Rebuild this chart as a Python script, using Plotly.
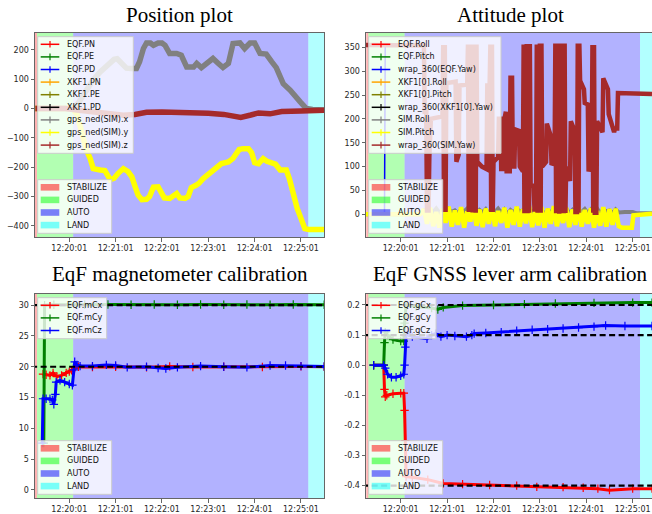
from datetime import datetime, timedelta
import plotly.graph_objects as go

W, H = 652, 514
T0 = datetime(2024, 1, 1, 12, 20, 1)   # 12:20:01, origin of the time offsets below (seconds)

# ---------------- time axis ----------------
tick_labels = ["12:20:01", "12:21:01", "12:22:01", "12:23:01", "12:24:01", "12:25:01"]

# ---------------- flight modes ----------------
mode_names = ["STABILIZE", "GUIDED", "AUTO", "LAND"]
mode_start = [-44.6, -41.8, 5.0, 309.5]
mode_rgb = [(255, 0, 0), (0, 255, 0), (0, 0, 255), (0, 255, 255)]

# ---------------- position (m) ----------------
sim_x_t = [-44, 5, 12, 20, 30, 40, 50, 58, 62, 68, 74, 80, 87, 91, 96, 100, 105, 109, 115, 120,
           124, 130, 139, 145, 152, 161, 165, 171, 178, 186, 193, 199, 206, 212, 221, 227, 234, 240, 247, 255,
           262, 268, 277, 286, 299, 307, 315, 330]
sim_x_v = [0, 0, 20, 55, 95, 125, 150, 168, 170, 152, 138, 137, 137, 160, 205, 224, 224, 216, 224, 224,
           216, 188, 188, 182, 142, 142, 154, 140, 154, 171, 154, 140, 154, 222, 224, 205, 224, 224, 188, 186,
           160, 140, 85, 63, 23, 0, -3, -5]

sim_y_t = [-44, 4, 10, 16, 22, 27, 31, 40, 46, 53, 58, 63, 70, 76, 81, 85, 89, 94, 100, 104,
           109, 115, 119, 123, 130, 135, 139, 143, 150, 154, 158, 164, 168, 173, 182, 189, 197, 206, 212, 216,
           220, 225, 232, 236, 240, 245, 251, 256, 262, 267, 273, 281, 285, 290, 295, 300, 305, 310, 331]
sim_y_v = [0, 0, -20, -80, -140, -170, -205, -210, -212, -243, -238, -222, -205, -215, -233, -265, -295, -311, -310, -300,
           -268, -267, -285, -305, -307, -300, -290, -305, -307, -300, -270, -262, -255, -240, -222, -205, -188, -182, -170, -155,
           -140, -137, -137, -150, -185, -188, -171, -180, -188, -190, -210, -210, -240, -295, -340, -375, -410, -413, -413]

sim_z_t = [-44, -5, 10, 30, 50, 70, 85, 100, 120, 150, 180, 200, 215, 222, 235, 245, 260, 275, 300, 330]
sim_z_v = [0, 0, -5, -12, -18, -23, -20, -13, -12, -13, -16, -20, -28, -30, -22, -15, -18, -10, -8, -6]

# ---------------- attitude (deg) ----------------
sim_yaw_t = [-45, 30, 31, 33, 34, 36, 37, 39, 54, 55, 56, 57, 58, 59, 71, 72, 75, 76, 86,
             87, 88, 89, 90, 91, 92, 93, 94, 95, 96, 97, 98, 99, 105, 111, 112, 115,
             116, 117, 118, 119, 120, 126, 127, 129, 130, 132, 133, 136, 137, 141, 142, 144, 145, 147, 148, 153, 154, 158,
             159, 160, 161, 162, 163, 164, 165, 166, 167, 168, 172, 173, 175,
             176, 177, 178, 179, 180, 181, 182, 183, 188, 189, 194, 195, 199,
             200, 201, 202, 203, 204, 205, 206, 207, 208, 209, 210, 211, 212, 213, 214, 219, 220, 225, 226, 228,
             229, 230, 231, 232, 237, 238, 242, 243, 247, 248, 249, 250, 251, 253, 254, 261, 262, 268, 269, 276,
             277, 280, 281, 325]
sim_yaw_v = [355, 354, 215, 215, 8, 8, 120, 200, 205, 355, 5, 355, 5, 275, 278, 110, 125, 270, 272,
             356, 5, 356, 5, 200, 356, 4, 356, 4, 356, 3, 356, 110, 100, 95, 270, 270,
             356, 5, 356, 5, 110, 120, 200, 200, 95, 95, 190, 215, 90, 90, 286, 286, 100, 100, 178, 175, 100, 90,
             356, 2, 356, 2, 357, 2, 357, 3, 357, 60, 60, 10, 10,
             356, 3, 356, 3, 358, 3, 358, 100, 110, 190, 165, 107, 105,
             358, 2, 358, 2, 358, 1, 357, 2, 358, 3, 357, 2, 358, 3, 100, 70, 195, 175, 5, 5,
             358, 3, 358, 280, 262, 233, 230, 90, 110, 355, 3, 355, 3, 3, 195, 172, 285, 262, 210, 172,
             180, 180, 254, 252]

sim_roll_t = [-45, 25] + list(range(30, 283, 4)) + [290, 300, 305, 325]
sim_roll_v = [0, 0,
              8, 2, 10, 4, 12, 3, 9, 1, 11, 5, 8, 2, 10, 6, 12, 3, 7, 1, 9, 4,
              11, 2, 8, 5, 12, 3, 10, 1, 9, 4, 11, 6, 8, 2, 10, 3, 12, 5, 9, 1,
              8, 4, 11, 2, 10, 6, 12, 3, 9, 1, 8, 5, 11, 2, 10, 4, 12, 3, 9, 6,
              8, 2, 10, 4,
              5, 5, 2, 2]

sim_pitch_t = [-45, 25] + list(range(30, 283, 4)) + [286, 292, 299, 301, 310, 325]
sim_pitch_v = [0, 0,
               10, -20, 14, -25, 5, -28, 12, -18, 16, -26, 8, -22, 15, -28, 6, -15, 18, -24, 10, -27,
               12, -20, 17, -25, 7, -18, 14, -28, 9, -22, 16, -26, 11, -19, 18, -27, 6, -23, 15, -28,
               12, -20, 17, -25, 8, -18, 14, -27, 10, -22, 16, -26, 9, -20, 13, -28, 7, -24, 15, -26,
               11, -22, 12, -25,
               -28, -29, -28, -2, 0, 1]

eqf_yaw_t = [-21, -20, -16]
eqf_yaw_v = [0, 355, 355]

# ---------------- magnetometer calibration ----------------
mcx_t = [-34, -30, -25, -21, -16, -10, -4, 0, 3, 7, 12, 30, 60, 100, 130, 160, 200, 250, 300, 330]
mcx_v = [18.8, 18.7, 18.6, 19.0, 18.4, 18.6, 19.0, 19.2, 19.4, 19.8, 20.0, 19.95, 20.0, 19.9, 20.05, 19.95, 20.0, 19.95, 20.05, 20.0]
mcy_t = [-33, -32, -20, 0, 20, 50, 80, 110, 140, 170, 200, 230, 260, 290, 330]
mcy_v = [7.6, 30.0, 30.05, 30.0, 30.05, 30.1, 30.05, 30.1, 30.05, 30.1, 30.05, 30.1, 30.05, 30.1, 30.05]
mcz_t = [-35, -34, -30, -25, -22, -20, -18, -17, -12, -6, 0, 4, 6, 7, 10, 14, 30, 48, 60, 75,
         100, 115, 125, 140, 170, 200, 230, 260, 280, 300, 330]
mcz_v = [7.6, 14.8, 14.8, 14.8, 14.6, 13.9, 15.5, 17.5, 17.8, 17.5, 17.2, 17.0, 19.5, 20.8, 20.3, 20.1, 20.1, 20.3, 20.2, 19.9,
         20.0, 19.8, 19.7, 19.9, 20.1, 20.0, 19.9, 20.2, 20.2, 20.1, 20.05]
mag_truth = [20.0, 30.0, 20.0]

# ---------------- GNSS lever arm calibration (m) ----------------
gcx_t = [-35, -22, -21, -20, -18, -10, 0, 4, 5, 6, 7, 15, 35, 55, 80, 115, 150, 176, 210, 236, 255, 270, 300, 325]
gcx_v = [0.0, 0.0, -0.08, -0.105, -0.1, -0.095, -0.093, -0.093, -0.15, -0.25, -0.37, -0.372, -0.38, -0.393, -0.395,
         -0.398, -0.40, -0.404, -0.405, -0.407, -0.41, -0.415, -0.41, -0.41]
gcy_t = [-35, -22, -21, -20, -17, -10, 0, 4, 5, 7, 20, 40, 48, 55, 80, 120, 160, 200, 250, 300, 325]
gcy_v = [0.0, 0.0, 0.075, 0.11, 0.1, 0.085, 0.08, 0.08, 0.14, 0.2, 0.195, 0.19, 0.185, 0.192, 0.198, 0.2, 0.203,
         0.205, 0.207, 0.208, 0.208]
gcz_t = [-35, -22, -20, -17, -12, -6, 0, 4, 5, 6, 7, 9, 15, 34, 40, 45, 52, 60, 70, 85,
         92, 95, 110, 130, 150, 170, 190, 210, 230, 250, 265, 290, 325]
gcz_v = [0.0, 0.0, -0.01, -0.03, -0.04, -0.04, -0.035, -0.03, 0.0, 0.06, 0.1, 0.11, 0.095, 0.088, 0.1, 0.105, 0.095,
         0.1, 0.097, 0.095, 0.1, 0.105, 0.107, 0.11, 0.115, 0.118, 0.12, 0.122, 0.125, 0.128, 0.132, 0.13, 0.13]
gnss_truth = [-0.4, 0.2, 0.1]


def stamp(sec):
    return (T0 + timedelta(seconds=sec)).strftime("%Y-%m-%d %H:%M:%S.%f")


def stamps(secs):
    return [stamp(s) for s in secs]


def px(v):
    return v / W


def py(v):
    return 1 - v / H


# panel geometry in pixels: (left, right, top, bottom, t_min, t_max)
panels = {
    "1": (35, 324, 33, 237, -44.4, 329.8),
    "2": (366, 652, 33, 237, -44.9, 325.0),
    "3": (35, 324, 294, 498, -44.4, 329.8),
    "4": (366, 652, 294, 498, -44.9, 325.0),
}

fig = go.Figure()

GRAY, YEL, BROWN = "#808080", "#ffff00", "#a52a2a"
RED, GREEN, BLUE = "#ff0000", "#008000", "#0000ff"


def add_line(t, v, color, width, ax, markers=False, msize=6):
    xa = "x" if ax == "1" else "x" + ax
    ya = "y" if ax == "1" else "y" + ax
    fig.add_trace(go.Scatter(
        x=stamps(t), y=v, xaxis=xa, yaxis=ya,
        mode="lines+markers" if markers else "lines",
        line=dict(color=color, width=width),
        marker=dict(symbol="cross-thin", size=msize, line=dict(color=color, width=1.2)),
        hoverinfo="skip", showlegend=False))


# position
add_line(sim_x_t, sim_x_v, GRAY, 5.5, "1")
add_line(sim_y_t, sim_y_v, YEL, 5.5, "1")
add_line(sim_z_t, sim_z_v, BROWN, 5.5, "1")

# attitude
add_line(eqf_yaw_t, eqf_yaw_v, BLUE, 1.5, "2")
add_line(sim_roll_t, sim_roll_v, GRAY, 4, "2")
add_line(sim_pitch_t, sim_pitch_v, YEL, 4.5, "2")
add_line(sim_yaw_t, sim_yaw_v, BROWN, 4.5, "2")

# magnetometer
add_line(mcx_t, mcx_v, RED, 3, "3", markers=True)
add_line(mcy_t, mcy_v, GREEN, 3, "3", markers=True)
add_line(mcz_t, mcz_v, BLUE, 3, "3", markers=True)

# GNSS lever arm
add_line(gcx_t, gcx_v, RED, 3, "4", markers=True)
add_line(gcy_t, gcy_v, GREEN, 3, "4", markers=True)
add_line(gcz_t, gcz_v, BLUE, 3, "4", markers=True)

# true values as dashed reference lines
for ax, truth in (("3", mag_truth), ("4", gnss_truth)):
    t_lo, t_hi = panels[ax][4], panels[ax][5]
    for val in sorted(set(truth)):
        fig.add_trace(go.Scatter(
            x=[stamp(t_lo - 5), stamp(t_hi + 5)], y=[val, val],
            xaxis="x" + ax, yaxis="y" + ax, mode="lines",
            line=dict(color="black", width=2.2, dash="6px,3.5px"),
            hoverinfo="skip", showlegend=False))

shapes = []
annotations = []

# flight-mode spans
for ax, (l, r, t, b, t_lo, t_hi) in panels.items():
    xref = "x" if ax == "1" else "x" + ax
    yref = ("y" if ax == "1" else "y" + ax) + " domain"
    for i, name in enumerate(mode_names):
        s0 = mode_start[i]
        s1 = mode_start[i + 1] if i + 1 < len(mode_start) else t_hi + 10
        rr, gg, bb = mode_rgb[i]
        shapes.append(dict(type="rect", xref=xref, yref=yref, x0=stamp(s0), x1=stamp(s1),
                           y0=0, y1=1, fillcolor=f"rgba({rr},{gg},{bb},0.3)",
                           line=dict(width=0), layer="below"))

ROW = 12.6
FONT = dict(family="DejaVu Sans", size=8, color="#111111")


def legend_block(ax_left, top, width, entries, kind):
    n = len(entries)
    height = n * ROW + 3.2
    shapes.append(dict(type="rect", xref="paper", yref="paper",
                       x0=px(ax_left + 2.7), x1=px(ax_left + 2.7 + width),
                       y0=py(top + height), y1=py(top),
                       fillcolor="rgba(255,255,255,0.8)",
                       line=dict(color="#cccccc", width=1), layer="above"))
    for i, (label, color) in enumerate(entries):
        yc = top + 7.6 + i * ROW
        if kind == "line":
            shapes.append(dict(type="line", xref="paper", yref="paper",
                               x0=px(ax_left + 5.7), x1=px(ax_left + 24.3), y0=py(yc), y1=py(yc),
                               line=dict(color=color, width=1.5), layer="above"))
            shapes.append(dict(type="line", xref="paper", yref="paper",
                               x0=px(ax_left + 15), x1=px(ax_left + 15), y0=py(yc - 3.3), y1=py(yc + 3.3),
                               line=dict(color=color, width=1.2), layer="above"))
        else:
            shapes.append(dict(type="rect", xref="paper", yref="paper",
                               x0=px(ax_left + 5.7), x1=px(ax_left + 24.3), y0=py(yc + 3.3), y1=py(yc - 3.3),
                               fillcolor=color, line=dict(width=0), layer="above"))
        annotations.append(dict(text=label, xref="paper", yref="paper", x=px(ax_left + 30),
                                y=py(yc), xanchor="left", yanchor="middle", showarrow=False,
                                font=FONT))


mode_entries = [(n, f"rgba({c[0]},{c[1]},{c[2]},0.5)") for n, c in zip(mode_names, mode_rgb)]

pos_entries = [("EQF.PN", RED), ("EQF.PE", GREEN), ("EQF.PD", BLUE),
               ("XKF1.PN", "#ffa500"), ("XKF1.PE", "#808000"), ("XKF1.PD", "#000000"),
               ("gps_ned(SIM).x", GRAY), ("gps_ned(SIM).y", YEL), ("gps_ned(SIM).z", BROWN)]
att_entries = [("EQF.Roll", RED), ("EQF.Pitch", GREEN), ("wrap_360(EQF.Yaw)", BLUE),
               ("XKF1[0].Roll", "#ffa500"), ("XKF1[0].Pitch", "#808000"), ("wrap_360(XKF1[0].Yaw)", "#000000"),
               ("SIM.Roll", GRAY), ("SIM.Pitch", YEL), ("wrap_360(SIM.Yaw)", BROWN)]
mag_entries = [("EQF.mCx", RED), ("EQF.mCy", GREEN), ("EQF.mCz", BLUE)]
gps_entries = [("EQF.gCx", RED), ("EQF.gCy", GREEN), ("EQF.gCz", BLUE)]

series_width = {"1": 95.6, "2": 132.3, "3": 69.0, "4": 67.4}
series_entries = {"1": pos_entries, "2": att_entries, "3": mag_entries, "4": gps_entries}
for ax, (l, r, t, b, _, _) in panels.items():
    legend_block(l, t + 3.7, series_width[ax], series_entries[ax], "line")
    legend_block(l, b - 3.7 - (len(mode_entries) * ROW + 3.2), 74.0, mode_entries, "patch")

# subplot titles
TITLE_FONT = dict(family="Liberation Serif", size=21, color="black")
titles = [("Position plot", 179.5, 15), ("Attitude plot", 510.5, 15),
          ("EqF magnetometer calibration", 179.5, 274), ("EqF GNSS lever arm calibration", 510.5, 274)]
for text, cx, cy in titles:
    annotations.append(dict(text=text, xref="paper", yref="paper", x=px(cx), y=py(cy),
                            xanchor="center", yanchor="middle", showarrow=False, font=TITLE_FONT))

# axes
AX_COL = "#666666"
TICK_FONT = dict(family="DejaVu Sans", size=8, color="#262626")
tick_times = [T0 + timedelta(minutes=i) for i in range(len(tick_labels))]
tick_vals = [d.strftime("%Y-%m-%d %H:%M:%S") for d in tick_times]

y_setup = {
    "1": ([-438.6, 258], [-400, -300, -200, -100, 0, 100, 200],
          ["\u2212400", "\u2212300", "\u2212200", "\u2212100", "0", "100", "200"]),
    "2": ([-47.6, 380], [0, 50, 100, 150, 200, 250, 300, 350],
          ["0", "50", "100", "150", "200", "250", "300", "350"]),
    "3": ([-1.3, 31.8], [0, 5, 10, 15, 20, 25, 30],
          ["0", "5", "10", "15", "20", "25", "30"]),
    "4": ([-0.441, 0.2365], [-0.4, -0.3, -0.2, -0.1, 0.0, 0.1, 0.2],
          ["-0.4", "-0.3", "-0.2", "-0.1", "0.0", "0.1", "0.2"]),
}

layout_axes = {}
for ax, (l, r, t, b, t_lo, t_hi) in panels.items():
    xk = "xaxis" if ax == "1" else "xaxis" + ax
    yk = "yaxis" if ax == "1" else "yaxis" + ax
    xa = "x" if ax == "1" else "x" + ax
    ya = "y" if ax == "1" else "y" + ax
    right_clipped = r >= W
    layout_axes[xk] = dict(
        type="date", domain=[px(l), min(1.0, px(r))], anchor=ya,
        range=[stamp(t_lo), stamp(t_hi)], tickmode="array", tickvals=tick_vals, ticktext=tick_labels,
        showgrid=False, zeroline=False, showline=True, mirror=True, linecolor=AX_COL, linewidth=1,
        ticks="outside", ticklen=3.5, tickwidth=1, tickcolor=AX_COL, tickfont=TICK_FONT)
    yr, yv, yt = y_setup[ax]
    layout_axes[yk] = dict(
        domain=[py(b), py(t)], anchor=xa, range=yr, tickmode="array", tickvals=yv, ticktext=yt,
        showgrid=False, zeroline=False, showline=True, mirror=not right_clipped,
        linecolor=AX_COL, linewidth=1,
        ticks="outside", ticklen=3.5, tickwidth=1, tickcolor=AX_COL, tickfont=TICK_FONT)

fig.update_layout(
    width=W, height=H, margin=dict(l=0, r=0, t=0, b=0),
    paper_bgcolor="white", plot_bgcolor="white", showlegend=False,
    shapes=shapes, annotations=annotations, **layout_axes)

fig.write_html("out.html")
